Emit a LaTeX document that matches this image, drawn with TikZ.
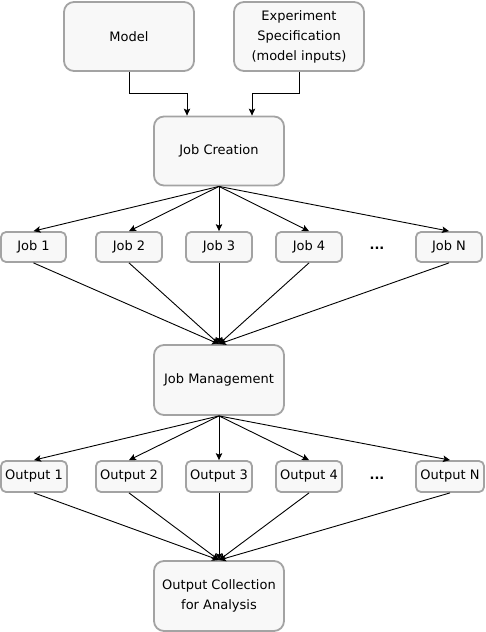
\documentclass[tikz,border=0pt]{standalone}
\usepackage{fontspec}
\setmainfont{DejaVu Sans}
\usetikzlibrary{arrows.meta}
\definecolor{boxfill}{HTML}{F8F8F8}
\definecolor{boxline}{HTML}{A3A3A3}
\begin{document}
\begin{tikzpicture}[x=1pt,y=-1pt,
  bigbox/.style={draw=boxline,fill=boxfill,line width=1.8pt,rounded corners=10pt,
    minimum width=130pt,minimum height=69pt,inner sep=0pt,align=center,
    font=\fontsize{13pt}{20pt}\selectfont},
  smallbox/.style={draw=boxline,fill=boxfill,line width=1.8pt,rounded corners=5pt,
    minimum width=66pt,minimum height=30pt,inner sep=0pt,
    font=\fontsize{13pt}{20pt}\selectfont},
  dots/.style={font=\fontsize{13pt}{20pt}\selectfont\bfseries},
  conn/.style={line width=0.9pt,-{Stealth[length=7pt,width=6.5pt,inset=1.5pt]}}]
\useasboundingbox (0,0) rectangle (485,632);
\node[bigbox] (model) at (129,36.5) {Model};
\node[bigbox] (exp) at (299,36.5) {Experiment\\Specification\\(model inputs)};
\node[bigbox] (jc) at (219,151) {Job Creation};
\node[smallbox,minimum width=65pt] (j1) at (33.5,247) {Job 1};
\node[smallbox] (j2) at (129,247) {Job 2};
\node[smallbox] (j3) at (219,247) {Job 3};
\node[smallbox] (j4) at (309,247) {Job 4};
\node[dots] (jd) at (377,248) {...};
\node[smallbox] (jn) at (449,247) {Job N};
\node[bigbox,minimum height=70pt] (jm) at (219,380) {Job Management};
\node[smallbox,minimum height=31pt] (o1) at (34,476.5) {Output 1};
\node[smallbox,minimum height=31pt] (o2) at (129,476.5) {Output 2};
\node[smallbox,minimum height=31pt] (o3) at (219,476.5) {Output 3};
\node[smallbox,minimum height=31pt] (o4) at (309,476.5) {Output 4};
\node[dots] (od) at (377,478) {...};
\node[smallbox,minimum height=31pt,minimum width=68pt] (on) at (450,476.5) {Output N};
\node[bigbox,minimum height=70pt] (oc) at (219,596) {Output Collection\\for Analysis};
\draw[conn] (model.south) -- ++(0,22) -| ([xshift=-32pt]jc.north);
\draw[conn] (exp.south) -- ++(0,22) -| ([xshift=33pt]jc.north);
\foreach \j in {j1,j2,j3,j4,jn}{
  \draw[conn] (jc.south) -- (\j.north);
  \draw[conn] (\j.south) -- (jm.north);
}
\foreach \o in {o1,o2,o3,o4,on}{
  \draw[conn] (jm.south) -- (\o.north);
  \draw[conn] (\o.south) -- (oc.north);
}
\end{tikzpicture}
\end{document}
